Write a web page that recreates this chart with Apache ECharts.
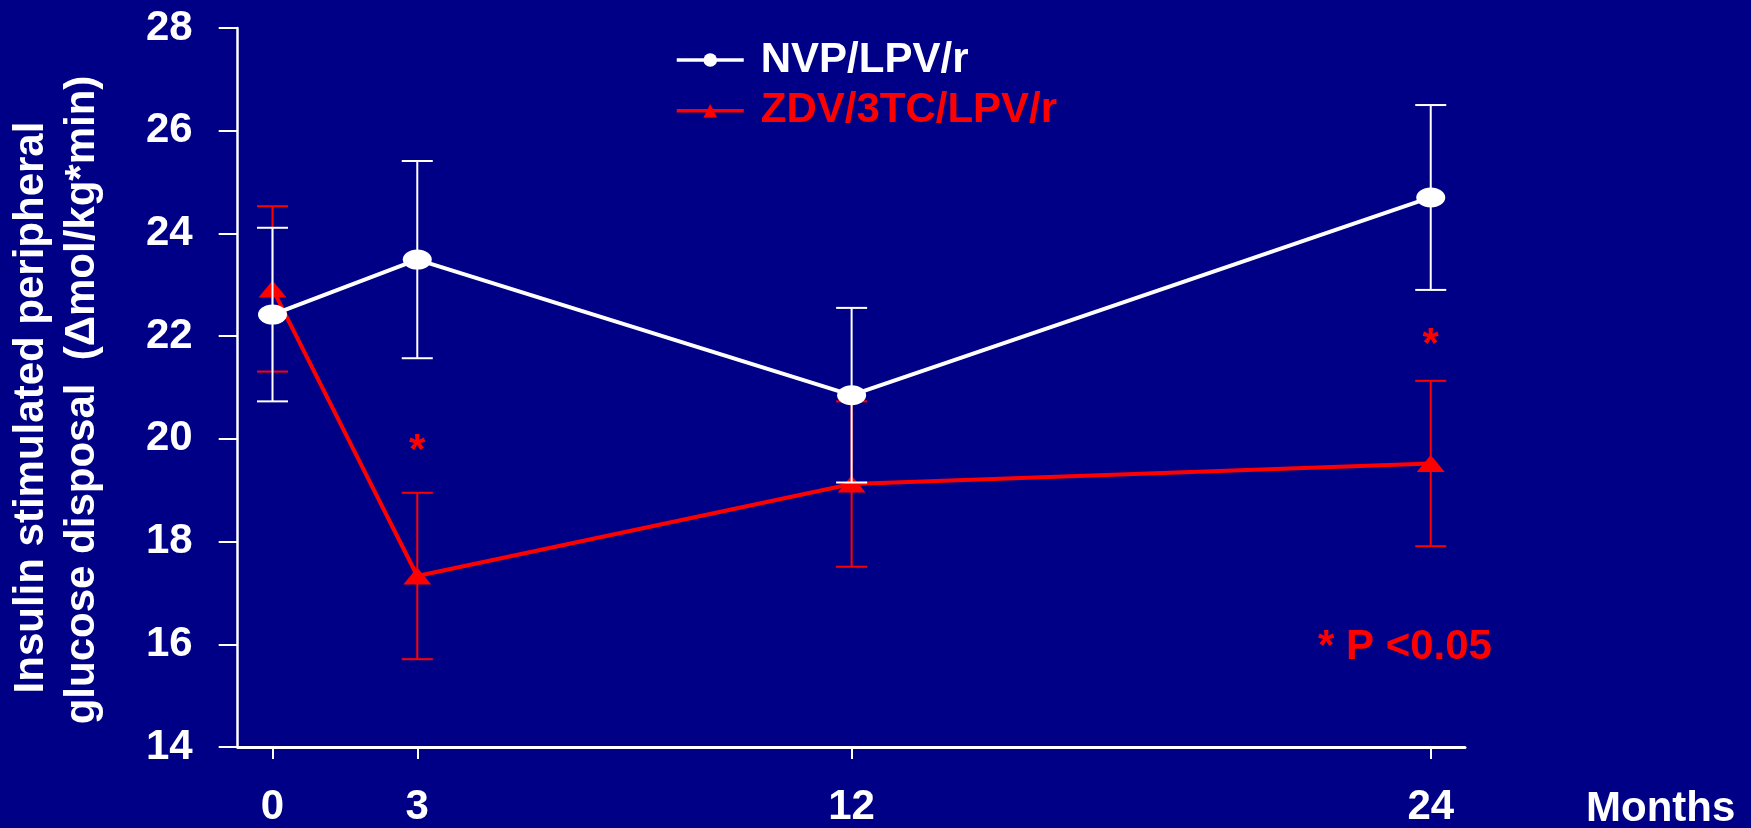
<!DOCTYPE html>
<html>
<head>
<meta charset="utf-8">
<title>Insulin stimulated peripheral glucose disposal</title>
<script src="https://cdn.jsdelivr.net/npm/echarts@6/dist/echarts.min.js"></script>
<style>
  html, body { margin: 0; padding: 0; background: #000086; }
  #chart { width: 1751px; height: 828px; }
</style>
</head>
<body>
<div id="chart"></div>
<script>
// Time points (months) and group results (mean ± SE)
const months = [0, 3, 12, 24];
const nvpName = 'NVP/LPV/r';
const nvpMean = [22.42, 23.49, 20.85, 24.70];
const nvpSE = [1.69, 1.92, 1.70, 1.80];
const zdvName = 'ZDV/3TC/LPV/r';
const zdvMean = [22.92, 17.33, 19.12, 19.52];
const zdvSE = [1.61, 1.62, 1.61, 1.61];
// Significance markers: [month, y position]
const sigMarks = [[3, 19.95], [24, 22.0]];
const yTicks = [14, 16, 18, 20, 22, 24, 26, 28];

const FONT = '"Liberation Sans", Arial, Helvetica, sans-serif';
const WHITE = '#ffffff';
const RED = '#ff0000';

const chart = echarts.init(document.getElementById('chart'), null, { renderer: 'canvas' });

function pairs(xs, ys) { return xs.map((x, i) => [x, ys[i]]); }
function bars(xs, mean, se) { return xs.map((x, i) => [x, mean[i] - se[i], mean[i] + se[i]]); }

// Vertical whisker with caps at mean ± SE
function errorBarRender(color) {
  return function (params, api) {
    const x = api.value(0);
    const lo = api.coord([x, api.value(1)]);
    const hi = api.coord([x, api.value(2)]);
    const half = 15.5;
    const style = { stroke: color, lineWidth: 2 };
    return {
      type: 'group',
      children: [
        { type: 'line', shape: { x1: lo[0], y1: lo[1], x2: hi[0], y2: hi[1] }, style },
        { type: 'line', shape: { x1: lo[0] - half, y1: lo[1], x2: lo[0] + half, y2: lo[1] }, style },
        { type: 'line', shape: { x1: hi[0] - half, y1: hi[1], x2: hi[0] + half, y2: hi[1] }, style }
      ]
    };
  };
}

const ellipse = 'path://M0,10A10,10 0 1,0 20,10A10,10 0 1,0 0,10Z';

const option = {
  backgroundColor: '#000086',
  animation: false,
  textStyle: { fontFamily: FONT },
  grid: { left: 237.7, right: 286, top: 28, bottom: 78.3, containLabel: false },
  legend: {
    orient: 'vertical',
    left: 675,
    top: 39,
    padding: 0,
    itemWidth: 67,
    itemHeight: 17,
    itemGap: 8.7,
    selectedMode: false,
    lineStyle: { width: 3.5 },
    textStyle: { fontSize: 42, fontWeight: 'bold', fontFamily: FONT, lineHeight: 42, padding: [0, 0, 0, 12] },
    data: [
      { name: nvpName, textStyle: { color: WHITE } },
      { name: zdvName, textStyle: { color: RED } }
    ]
  },
  xAxis: {
    type: 'value',
    min: -0.7211,
    max: 24.71,
    splitLine: { show: false },
    axisLine: { onZero: false, lineStyle: { color: WHITE, width: 3 } },
    axisTick: { show: true, length: 12, lineStyle: { color: WHITE, width: 2 }, customValues: months },
    axisLabel: {
      customValues: months,
      color: WHITE, fontSize: 42, fontWeight: 'bold', fontFamily: FONT, margin: 39
    }
  },
  yAxis: {
    type: 'value',
    min: 14,
    max: 28,
    interval: 2,
    splitLine: { show: false },
    axisLine: { show: true, onZero: false, lineStyle: { color: WHITE, width: 2.5 } },
    axisTick: { show: true, length: 19, lineStyle: { color: WHITE, width: 2 } },
    axisLabel: {
      customValues: yTicks,
      color: WHITE, fontSize: 42, fontWeight: 'bold', fontFamily: FONT, margin: 45
    }
  },
  graphic: [
    {
      type: 'text', x: 31, y: 407.5, rotation: Math.PI / 2,
      style: { text: 'Insulin stimulated peripheral', fill: WHITE, font: 'bold 42px ' + FONT, align: 'center', verticalAlign: 'middle' }
    },
    {
      type: 'text', x: 82, y: 400, rotation: Math.PI / 2,
      style: { text: 'glucose disposal  (\u0394mol/kg*min)', fill: WHITE, font: 'bold 42px ' + FONT, align: 'center', verticalAlign: 'middle' }
    },
    {
      type: 'text', x: 1586, y: 809.5,
      style: { text: 'Months', fill: WHITE, font: 'bold 42px ' + FONT, align: 'left', verticalAlign: 'middle' }
    },
    {
      type: 'text', x: 1318, y: 647,
      style: { text: '* P <0.05', fill: RED, font: 'bold 42px ' + FONT, align: 'left', verticalAlign: 'middle' }
    }
  ],
  series: [
    {
      name: zdvName + ' SE',
      type: 'custom',
      z: 2,
      silent: true,
      renderItem: errorBarRender(RED),
      encode: { x: 0, y: [1, 2] },
      data: bars(months, zdvMean, zdvSE)
    },
    {
      name: zdvName,
      type: 'line',
      z: 3,
      data: pairs(months, zdvMean),
      symbol: 'triangle',
      symbolSize: [28, 17],
      lineStyle: { color: RED, width: 4 },
      itemStyle: { color: RED }
    },
    {
      name: nvpName + ' SE',
      type: 'custom',
      z: 4,
      silent: true,
      renderItem: errorBarRender(WHITE),
      encode: { x: 0, y: [1, 2] },
      data: bars(months, nvpMean, nvpSE)
    },
    {
      name: nvpName,
      type: 'line',
      z: 5,
      data: pairs(months, nvpMean),
      symbol: ellipse,
      symbolSize: [29, 20],
      lineStyle: { color: WHITE, width: 4 },
      itemStyle: { color: WHITE }
    },
    {
      name: 'significance',
      type: 'custom',
      z: 6,
      silent: true,
      renderItem: function (params, api) {
        const p = api.coord([api.value(0), api.value(1)]);
        return {
          type: 'text',
          x: p[0], y: p[1] + 9.5,
          style: { text: '*', fill: RED, font: 'bold 42px ' + FONT, align: 'center', verticalAlign: 'middle' }
        };
      },
      data: sigMarks
    }
  ]
};

chart.setOption(option);
</script>
</body>
</html>
